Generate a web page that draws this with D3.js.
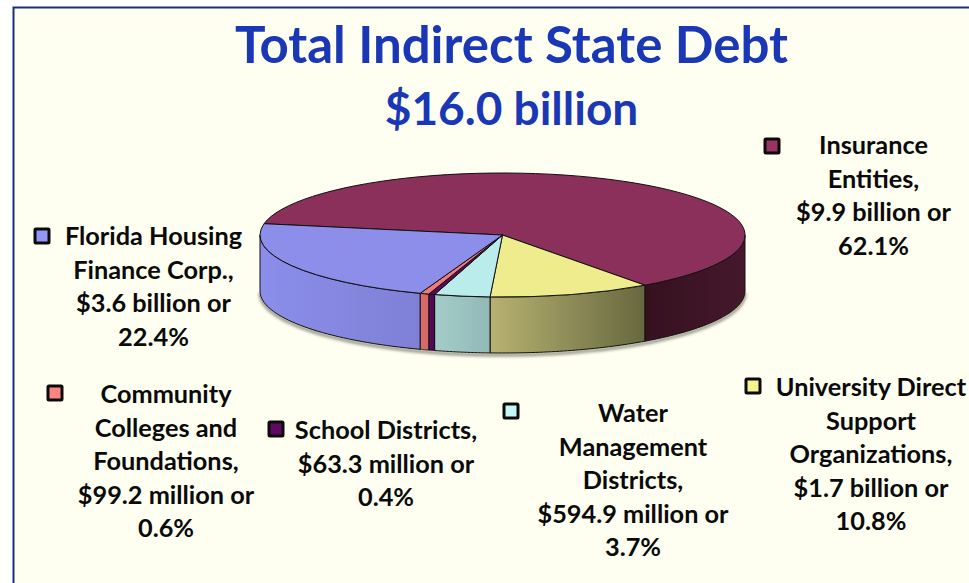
<!DOCTYPE html>
<html><head><meta charset="utf-8">
<script src="https://cdn.jsdelivr.net/npm/d3@7"></script>
<style>html,body{margin:0;padding:0;background:#fff;overflow:hidden}svg{display:block}text{font-family:Lato,"Open Sans",sans-serif;font-weight:700}</style>
</head><body><svg id="c" width="969" height="583"></svg>
<script>
const categories=["Insurance Entities","University Direct Support Organizations","Water Management Districts","School Districts","Community Colleges and Foundations","Florida Housing Finance Corp."];
const values=[62.1,10.8,3.7,0.4,0.6,22.4];
const topColors=["#8b2f5b","#eeec8c","#b9eceb","#5a0a5c","#ee7b78","#8c8eea"];
const keyColors=["#9a3363","#f6f48f","#c6f6f6","#5f0a62","#fb8583","#9496f5"];
const wallLeft=["#35111f","#b7b271","#a3cdc9","#5a0a5c","#da6d6a","#8b8eea"];
const wallRight=["#45182c","#67683f","#92b8b7","#4f0850","#d46866","#7f80d6"];
const labels=[
 ["Insurance","Entities,","$9.9 billion or","62.1%"],
 ["University Direct","Support","Organizations,","$1.7 billion or","10.8%"],
 ["Water","Management","Districts,","$594.9 million or","3.7%"],
 ["School Districts,","$63.3 million or","0.4%"],
 ["Community","Colleges and","Foundations,","$99.2 million or","0.6%"],
 ["Florida Housing","Finance Corp.,","$3.6 billion or","22.4%"]];
const title="Total Indirect State Debt", subtitle="$16.0 billion";

const W=969,H=583,cx=502.5,cy=235,rx=242.5,ry=62,depth=56,start=280.5*Math.PI/180;
const svg=d3.select("#c");
const defs=svg.append("defs");
defs.append("filter").attr("id","sh").attr("x","-5%").attr("y","-20%").attr("width","110%").attr("height","140%")
 .append("feGaussianBlur").attr("stdDeviation",1.6);

svg.append("rect").attr("width",W).attr("height",H).attr("fill","#ffffff");
svg.append("rect").attr("x",14).attr("y",8).attr("width",W-14).attr("height",H-8).attr("fill","#fefff1");
svg.append("path").attr("d",d3.line()([[13.5,H],[13.5,7.5],[W,7.5]])).attr("fill","none").attr("stroke","#16307e").attr("stroke-width",2);

svg.append("text").attr("x",511.5).attr("y",63).attr("text-anchor","middle").attr("font-size",51).attr("fill","#1a37b5").text(title);
svg.append("text").attr("x",511.5).attr("y",125).attr("text-anchor","middle").attr("font-size",46).attr("fill","#1a37b5").text(subtitle);

const arcs=d3.pie().sort(null).startAngle(start).endAngle(start+2*Math.PI)(values);
const px=a=>cx+rx*Math.sin(a), py=a=>cy-ry*Math.cos(a);
const line=d3.line();
function wall(a0,a1){
  const ts=d3.range(0,41).map(i=>a0+(a1-a0)*i/40);
  const t=ts.map(a=>[px(a),py(a)]);
  const b=ts.slice().reverse().map(a=>[px(a),py(a)+depth]);
  return line(t.concat(b))+"Z";
}
// visible front range: angles between 90deg and 270deg (mod 360)
function visible(d){
  const ranges=[];
  for(const k of [0,1,2]){
    const lo=Math.PI/2+2*Math.PI*k, hi=3*Math.PI/2+2*Math.PI*k;
    const a=Math.max(d.startAngle,lo), b=Math.min(d.endAngle,hi);
    if(b>a) ranges.push([a,b]);
  }
  return ranges;
}
// soft shadow below
const fr=d3.range(0,61).map(i=>Math.PI/2+Math.PI*i/60);
svg.append("path").attr("d",line(fr.map(a=>[px(a),py(a)+depth+2]))).attr("fill","none")
 .attr("stroke","#8f8f80").attr("stroke-width",3).attr("filter","url(#sh)");

const walls=[];
arcs.forEach((d,i)=>visible(d).forEach(r=>walls.push({i,r})));
walls.forEach((w,n)=>{
  const id="g"+n;
  const g=defs.append("linearGradient").attr("id",id).attr("gradientUnits","userSpaceOnUse")
   .attr("x1",px(w.r[1])).attr("x2",px(w.r[0])).attr("y1",0).attr("y2",0);
  g.append("stop").attr("offset",0).attr("stop-color",wallLeft[w.i]);
  g.append("stop").attr("offset",1).attr("stop-color",wallRight[w.i]);
  svg.append("path").attr("d",wall(w.r[0],w.r[1])).attr("fill",`url(#${id})`).attr("stroke","#111").attr("stroke-width",1).attr("stroke-linejoin","round");
});
const arcGen=d3.arc().innerRadius(0).outerRadius(rx);
svg.append("g").attr("transform",`translate(${cx},${cy}) scale(1,${ry/rx})`)
 .selectAll("path").data(arcs).join("path").attr("d",arcGen).attr("fill",(d,i)=>topColors[i])
 .attr("stroke","#111").attr("stroke-width",1).attr("vector-effect","non-scaling-stroke");

// labels: centre x, first baseline, key x, key y
const lab=[[873.5,154,772,146],[871,396,753,386],[633,422,511,411],[386,439,276,429],[166,403,55,393],[153.5,245,42,236]];
const lineStep=33.5;
labels.forEach((ls,i)=>{
  const [x,y,kx,ky]=lab[i];
  const t=svg.append("text").attr("text-anchor","middle").attr("font-size",25.3).attr("fill","#0a0a0a");
  ls.forEach((s,j)=>t.append("tspan").attr("x",x).attr("y",y+j*lineStep).text(s));
  svg.append("rect").attr("x",kx-7).attr("y",ky-7).attr("width",14).attr("height",14).attr("rx",1)
   .attr("fill",keyColors[i]).attr("stroke","#0a0a0a").attr("stroke-width",3);
});
</script></body></html>
